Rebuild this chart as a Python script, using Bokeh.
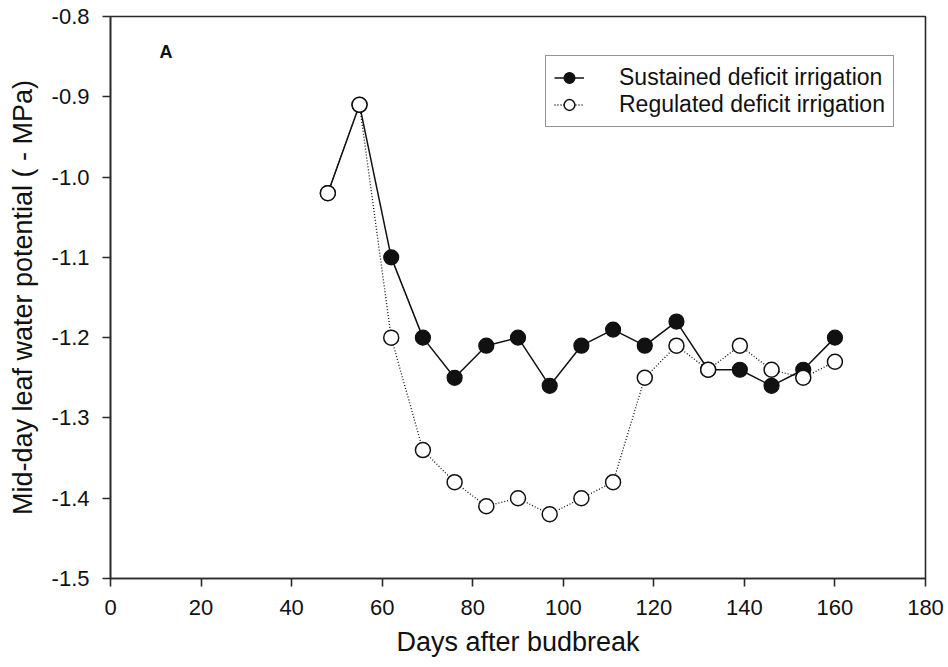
from bokeh.plotting import figure
from bokeh.models import (ColumnDataSource, Legend, LegendItem, Label, FixedTicker,
                          Range1d)
from bokeh.embed import file_html
from bokeh.resources import INLINE

# ---- data ----
days = [48, 55, 62, 69, 76, 83, 90, 97, 104, 111, 118, 125, 132, 139, 146, 153, 160]
sdi = [-1.02, -0.91, -1.10, -1.20, -1.25, -1.21, -1.20, -1.26, -1.21, -1.19, -1.21,
       -1.18, -1.24, -1.24, -1.26, -1.24, -1.20]
rdi = [-1.02, -0.91, -1.20, -1.34, -1.38, -1.41, -1.40, -1.42, -1.40, -1.38, -1.25,
       -1.21, -1.24, -1.21, -1.24, -1.25, -1.23]
x_ticks = [0, 20, 40, 60, 80, 100, 120, 140, 160, 180]
y_ticks = [-1.5, -1.4, -1.3, -1.2, -1.1, -1.0, -0.9, -0.8]
y_labels = ["-1.5", "-1.4", "-1.3", "-1.2", "-1.1", "-1.0", "-0.9", "-0.8"]
series_names = ["Sustained deficit irrigation", "Regulated deficit irrigation"]
panel_label = "A"
x_title = "Days after budbreak"
y_title = "Mid-day leaf water potential ( - MPa)"

FONT = "Liberation Sans"

p = figure(width=948, height=667, output_backend="svg", toolbar_location=None,
           x_range=Range1d(0, 180), y_range=Range1d(-1.5, -0.8),
           min_border_left=110, min_border_right=23, min_border_top=16,
           min_border_bottom=89)
p.xgrid.visible = False
p.ygrid.visible = False
p.outline_line_color = "#2a2a2a"
p.outline_line_width = 1.6
p.background_fill_color = "white"
p.border_fill_color = "white"

for ax in (p.xaxis[0], p.yaxis[0]):
    ax.axis_line_color = "#2a2a2a"
    ax.axis_line_width = 1.6
    ax.major_tick_line_color = "#2a2a2a"
    ax.major_tick_line_width = 1.6
    ax.major_tick_out = 8
    ax.major_tick_in = 0
    ax.minor_tick_line_color = None
    ax.major_label_text_font = FONT
    ax.major_label_text_font_size = "22px"
    ax.major_label_text_color = "#111111"
    ax.axis_label_text_font = FONT
    ax.axis_label_text_font_size = "27px"
    ax.axis_label_text_font_style = "normal"
    ax.axis_label_text_color = "#111111"

p.xaxis[0].ticker = FixedTicker(ticks=x_ticks)
p.yaxis[0].ticker = FixedTicker(ticks=y_ticks)
p.yaxis[0].major_label_overrides = {t: l for t, l in zip(y_ticks, y_labels)}
p.xaxis[0].axis_label = x_title
p.yaxis[0].axis_label = y_title
p.xaxis[0].major_label_standoff = 13
p.yaxis[0].major_label_standoff = 13
p.xaxis[0].axis_label_standoff = 9
p.yaxis[0].axis_label_standoff = 11

src = ColumnDataSource(dict(x=days, sdi=sdi, rdi=rdi))

l1 = p.line("x", "sdi", source=src, line_color="#111111", line_width=1.5)
m1 = p.scatter("x", "sdi", source=src, size=15, fill_color="#111111",
               line_color="#111111", line_width=1.2)
l2 = p.line("x", "rdi", source=src, line_color="#111111", line_width=1.3,
            line_dash="1 2")
m2 = p.scatter("x", "rdi", source=src, size=15, fill_color="white",
               line_color="#111111", line_width=1.5)

legend = Legend(items=[LegendItem(label=series_names[0], renderers=[l1, m1]),
                       LegendItem(label=series_names[1], renderers=[l2, m2])],
                location=(435, 451))
legend.label_text_font = FONT
legend.label_text_font_size = "23px"
legend.label_text_color = "#111111"
legend.border_line_color = "#2a2a2a"
legend.border_line_width = 1.4
legend.background_fill_alpha = 1.0
legend.glyph_width = 30
legend.glyph_height = 27
legend.label_height = 27
legend.label_standoff = 35
legend.spacing = 0
legend.padding = 8
legend.margin = 0
p.add_layout(legend)

p.add_layout(Label(x=10.8, y=-0.844, text=panel_label, text_font=FONT,
                   text_font_size="18px", text_font_style="bold",
                   text_baseline="middle", text_color="#111111"))

open("out.html", "w").write(file_html(p, INLINE))
